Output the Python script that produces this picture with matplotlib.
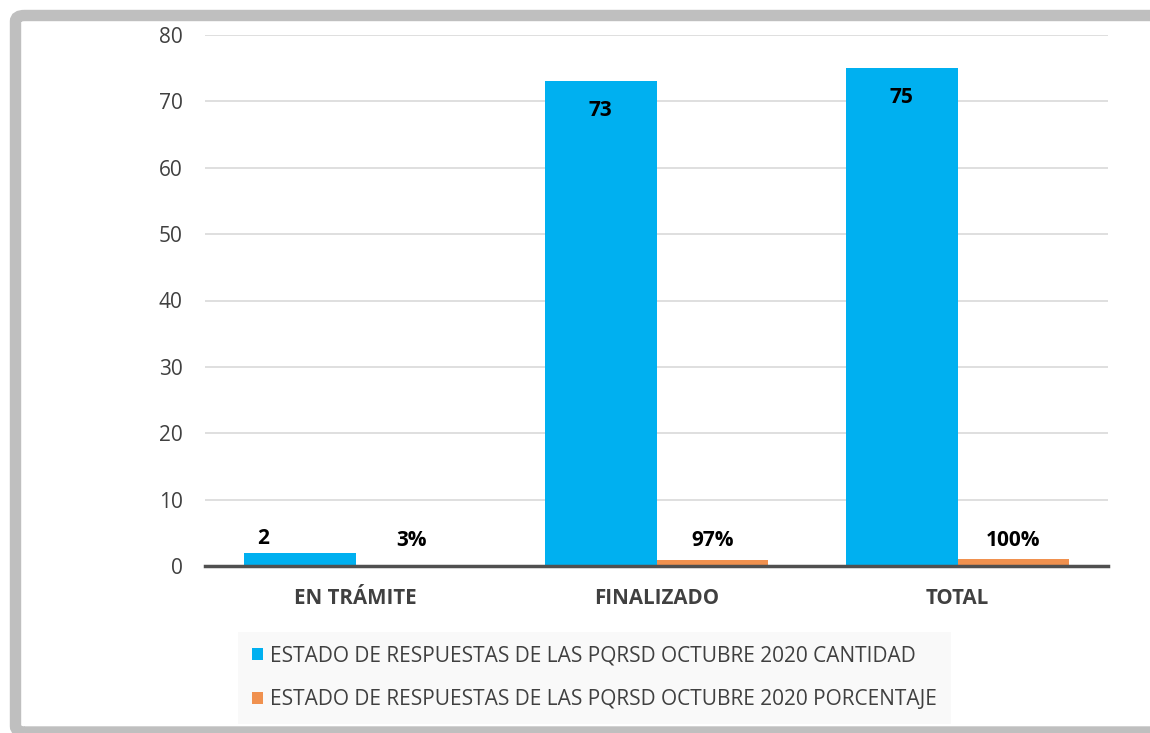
import matplotlib
matplotlib.use("Agg")
import matplotlib.pyplot as plt
from matplotlib.patches import FancyBboxPatch
import numpy as np

categories = ["EN TRÁMITE", "FINALIZADO", "TOTAL"]
cantidad = [2, 73, 75]
porcentaje = [0.03, 0.97, 1.00]
pct_labels = ["3%", "97%", "100%"]
series_names = ["ESTADO DE RESPUESTAS DE LAS PQRSD OCTUBRE 2020 CANTIDAD",
                "ESTADO DE RESPUESTAS DE LAS PQRSD OCTUBRE 2020 PORCENTAJE"]
yticks = [0, 10, 20, 30, 40, 50, 60, 70, 80]

plt.rcParams['font.family'] = ['Open Sans', 'DejaVu Sans']

W, H = 1150, 733
fig = plt.figure(figsize=(W / 100, H / 100), dpi=100)
fig.patch.set_facecolor("white")

# outer frame (cropped on right and bottom)
frame = FancyBboxPatch((15.5 / W, 1 - 732 / H), (1175 - 15.5) / W, (732 - 15.5) / H,
                       boxstyle="round,pad=0,rounding_size=0.008",
                       transform=fig.transFigure, facecolor="none",
                       edgecolor="#bfbfbf", linewidth=8.2, zorder=0, clip_on=False)
fig.patches.append(frame)

ax = fig.add_axes([205 / W, 1 - 566 / H, (1108 - 205) / W, (566 - 35) / H])
ax.set_facecolor("none")

x = np.arange(len(categories))
bw = 0.372
blue = "#00B0F0"
orange = "#F0914F"
b1 = ax.bar(x - bw / 2, cantidad, width=bw, color=blue, zorder=3, label=series_names[0])
b2 = ax.bar(x + bw / 2, porcentaje, width=bw, color=orange, zorder=3, label=series_names[1])

ax.set_xlim(-0.5, 2.5)
ax.set_ylim(0, 80)
ax.set_yticks(yticks)
ax.set_xticks(x)
ax.set_xticklabels(categories, fontsize=14.8, fontweight="bold", color="#404040")
ax.tick_params(axis="y", length=0, labelsize=15, colors="#404040", pad=16)
ax.tick_params(axis="x", length=0, pad=16)
ax.grid(axis="y", color="#d9d9d9", linewidth=1.2, zorder=0)
for s in ["top", "right", "left"]:
    ax.spines[s].set_visible(False)
ax.spines["bottom"].set_color("#505050")
ax.spines["bottom"].set_linewidth(2.5)
ax.spines["bottom"].set_zorder(4)

# data labels
for i, (rect, v) in enumerate(zip(b1, cantidad)):
    cx = rect.get_x() + rect.get_width() / 2
    if v > 10:
        ax.annotate(str(v), (cx, v), xytext=(0, -21), textcoords="offset points",
                    ha="center", va="center", fontsize=15, fontweight="bold", color="black", zorder=5)
    else:
        ax.annotate(str(v), (cx, v), xytext=(-26, 10), textcoords="offset points",
                    ha="center", va="center", fontsize=15, fontweight="bold", color="black", zorder=5)
for rect, lab in zip(b2, pct_labels):
    cx = rect.get_x() + rect.get_width() / 2
    ax.annotate(lab, (cx, 0), xytext=(0, 18), textcoords="offset points",
                ha="center", va="center", fontsize=15, fontweight="bold", color="black", zorder=5)

leg = fig.legend(handles=[b1, b2], labels=series_names, loc="upper left",
                 bbox_to_anchor=(238 / W, 1 - 632 / H), ncol=1, frameon=True,
                 fontsize=15, handlelength=0.55, handleheight=0.55, handletextpad=0.35,
                 labelspacing=1.1, borderpad=0.65, borderaxespad=0, fancybox=False)
leg.get_frame().set_facecolor("#f8f8f8")
leg.get_frame().set_edgecolor("none")
for t in leg.get_texts():
    t.set_color("#404040")

fig.savefig("out.png", dpi=100)
